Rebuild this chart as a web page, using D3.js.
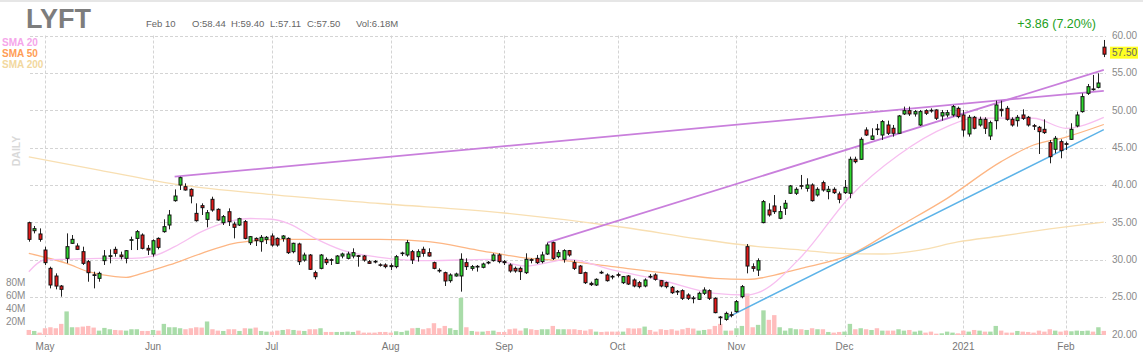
<!doctype html>
<html>
<head>
<meta charset="utf-8">
<script src="https://d3js.org/d3.v7.min.js"></script>
<style>
body { margin: 0; background: #fff; }
text { font-family: "Liberation Sans", Arial, sans-serif; }
</style>
</head>
<body>
<svg width="1143" height="359"></svg>
<script>
// ---- data (LYFT daily, Apr 28 2020 - Feb 10 2021) ----
var holidays = ["2020-05-25", "2020-07-03", "2020-09-07", "2020-11-26", "2020-12-25", "2021-01-01", "2021-01-18"];
var monthLabels = ["May", "Jun", "Jul", "Aug", "Sep", "Oct", "Nov", "Dec", "2021", "Feb"];
var priceTicks = [20, 25, 30, 35, 40, 45, 50, 55, 60];
var volTicks = [20, 40, 60, 80];

var opens = [
  34.94,33.87,33.43,31.28,28.83,27.80,26.46,30.17,32.18,31.82,
  31.06,29.72,27.97,27.49,29.86,30.43,31.37,30.61,30.17,32.58,
  32.84,33.29,31.51,30.75,32.84,33.74,34.63,37.89,39.98,39.76,
  39.40,36.19,37.22,35.39,38.07,36.73,34.94,36.41,34.76,34.63,
  35.08,32.26,32.84,32.40,32.71,33.16,32.84,32.84,32.84,31.06,
  32.09,29.94,30.61,28.25,28.83,30.03,29.99,29.50,30.48,30.17,
  30.48,30.52,30.48,29.72,29.77,29.30,29.28,29.19,29.06,30.80,
  30.62,31.06,30.39,31.38,30.93,29.59,28.56,28.25,27.18,27.81,
  27.81,29.59,28.83,29.10,28.97,29.64,29.86,30.62,29.73,29.28,
  28.83,28.83,28.25,30.00,30.17,29.73,30.75,32.27,30.39,30.04,
  31.20,29.59,29.14,28.25,26.82,26.60,28.30,27.94,27.76,27.98,
  26.91,27.81,27.27,26.91,26.47,27.76,27.94,27.18,26.91,26.29,
  25.75,25.84,25.26,24.86,24.68,25.49,25.84,24.82,22.31,22.00,
  22.62,23.03,25.04,31.73,29.05,28.60,34.95,36.64,37.18,35.53,
  36.87,38.88,38.88,39.90,39.54,39.99,38.65,40.30,39.10,39.41,
  38.79,38.96,38.88,43.43,43.43,47.35,46.10,47.49,46.68,48.02,
  47.58,46.91,49.50,49.94,49.50,48.02,49.94,49.99,50.03,49.23,
  49.36,49.36,50.25,49.36,46.82,49.05,48.02,48.78,46.55,48.60,
  50.12,50.25,48.78,48.60,49.36,49.05,47.93,47.71,47.44,45.66,
  44.77,45.79,45.52,46.10,47.89,49.81,52.26,52.84,53.06,58.44
];
var highs = [
  35.08,34.50,34.18,31.73,29.05,28.16,26.60,33.51,33.29,32.18,
  31.73,29.94,28.38,28.38,31.28,31.37,31.73,31.06,31.28,33.07,
  33.96,33.51,31.95,32.71,32.98,35.39,36.64,39.40,41.10,40.21,
  39.54,37.53,37.53,36.64,38.42,36.86,35.97,36.86,35.08,35.61,
  35.30,33.16,32.98,33.29,33.16,33.51,32.98,33.29,32.98,32.26,
  32.26,30.93,30.75,28.52,30.75,30.30,30.17,30.61,30.93,31.06,
  31.51,30.61,30.61,29.94,29.94,29.50,29.50,29.50,30.62,31.06,
  32.63,31.29,31.38,31.73,31.51,29.73,28.83,28.39,28.16,28.25,
  30.84,30.17,29.28,29.28,29.59,29.81,30.84,30.84,29.95,29.50,
  29.06,29.06,30.84,30.17,30.62,31.06,32.27,32.40,31.29,31.38,
  31.29,29.95,29.28,28.39,27.05,27.49,28.52,28.16,27.94,28.25,
  27.81,27.94,27.49,27.14,27.49,28.07,28.16,27.27,27.05,26.47,
  25.93,26.02,25.49,25.13,25.71,26.29,26.02,24.95,22.45,23.03,
  23.03,24.59,26.60,32.08,29.50,30.17,37.98,37.54,38.65,37.18,
  37.98,39.99,39.68,41.33,40.88,40.21,39.68,40.57,39.86,39.68,
  39.10,40.66,43.78,43.78,46.37,47.71,47.58,48.16,48.69,48.60,
  48.02,49.36,50.48,50.48,50.03,50.03,50.12,50.25,50.12,50.03,
  50.03,50.70,50.48,50.03,49.36,49.23,49.14,49.05,48.60,51.28,
  51.28,50.57,49.05,49.36,50.12,49.23,48.16,47.89,48.78,46.01,
  46.55,46.10,45.79,48.25,49.81,52.26,53.51,54.72,54.94,59.40
];
var lows = [
  32.40,33.51,32.40,29.28,26.15,26.02,25.04,29.50,32.09,31.28,
  29.28,27.04,26.15,27.04,29.28,29.50,30.39,30.03,29.50,31.28,
  31.28,31.37,30.61,30.39,31.37,33.60,34.05,37.75,39.32,39.23,
  37.53,35.08,35.97,34.32,36.41,35.21,34.63,34.50,32.84,34.50,
  32.71,31.95,31.82,31.06,32.09,31.73,31.73,32.40,30.75,30.84,
  29.28,29.72,28.61,27.36,28.70,29.28,29.28,29.41,30.17,30.03,
  30.17,29.05,29.72,29.41,29.50,29.06,28.83,28.61,28.83,30.48,
  30.39,29.41,29.73,30.39,30.39,28.70,28.25,26.47,26.91,27.72,
  25.71,28.61,28.52,28.39,28.83,29.37,29.73,29.50,29.28,28.25,
  28.25,27.27,28.07,29.50,29.41,29.50,30.62,29.95,30.17,29.59,
  30.39,28.61,28.07,26.73,26.47,26.47,28.07,27.05,27.36,27.63,
  26.73,26.60,26.29,26.15,26.29,27.49,27.18,26.29,26.15,25.40,
  25.26,24.59,24.59,24.15,24.59,25.26,24.59,22.81,21.24,21.82,
  22.27,22.89,24.82,28.16,28.38,27.80,34.86,35.75,36.11,35.40,
  35.98,38.79,38.65,39.41,39.10,37.76,38.43,39.10,38.07,38.79,
  37.54,38.79,38.21,42.89,43.34,46.55,46.02,46.68,46.02,46.68,
  46.46,46.82,49.36,49.23,49.14,47.89,49.36,49.67,48.69,48.60,
  49.05,49.14,48.92,46.46,46.46,47.44,47.80,46.82,46.01,47.44,
  49.14,48.60,47.80,47.80,48.69,47.80,47.35,44.14,46.82,42.89,
  44.23,43.56,44.68,46.01,47.71,49.67,52.04,52.62,52.93,57.11
];
var closes = [
  32.71,34.14,32.71,29.59,26.60,26.46,26.02,31.73,32.71,31.37,
  29.50,28.25,27.88,28.16,30.48,30.52,30.84,30.39,31.19,32.67,
  33.74,31.51,31.28,32.53,31.64,34.41,35.97,38.51,40.97,39.32,
  38.51,35.21,36.95,36.28,36.64,35.30,35.75,35.08,34.32,35.48,
  32.84,33.07,32.53,32.98,32.98,31.95,31.95,33.16,30.93,32.18,
  29.72,30.61,28.70,27.71,30.61,29.59,29.90,30.48,30.75,30.75,
  30.93,30.43,29.94,29.50,29.68,29.28,29.06,29.06,30.39,30.88,
  32.27,29.95,31.06,30.84,30.48,28.83,28.48,27.14,27.94,28.07,
  30.04,29.06,29.06,29.01,29.41,29.55,30.62,29.73,29.59,28.48,
  28.48,28.39,30.04,29.90,29.59,30.62,31.96,30.17,30.93,31.20,
  30.62,28.83,28.16,26.91,26.65,27.36,28.21,27.18,27.67,27.90,
  27.72,26.73,26.47,26.38,27.27,27.67,27.36,26.47,26.38,25.57,
  25.66,24.82,24.82,24.77,25.49,25.93,24.82,22.90,22.22,22.80,
  22.54,24.37,26.38,29.14,28.83,29.85,37.76,35.98,36.42,36.42,
  37.54,39.86,39.41,39.82,39.99,37.89,39.41,39.32,39.41,38.96,
  38.07,39.68,43.43,43.11,46.10,46.68,46.55,47.40,48.47,46.91,
  46.91,49.23,49.94,49.50,49.81,49.81,49.59,49.90,48.92,49.67,
  49.67,50.48,49.14,47.35,49.05,47.58,48.78,47.58,48.33,50.70,
  49.94,48.78,48.02,49.05,48.91,48.02,47.85,47.13,47.00,43.78,
  46.24,44.59,45.43,47.44,49.36,51.82,53.15,52.75,53.64,57.50
];
// volume in millions
var volumes = [
  7.6,6.1,3.6,10.2,11.7,10.2,16.8,35.6,11.7,11.7,
  12.7,13.7,11.2,6.6,10.7,8.7,7.6,7.1,6.6,8.7,
  8.7,6.1,6.1,7.6,6.6,16.8,11.7,11.7,10.2,8.7,
  10.2,11.7,11.2,20.4,8.7,6.6,6.1,8.7,8.7,6.1,
  10.2,9.7,11.2,6.1,5.1,5.1,6.6,7.6,8.7,7.6,
  6.6,6.1,8.7,8.7,10.2,4.6,4.6,4.6,4.6,5.1,
  4.6,6.6,3.6,3.6,3.6,4.6,4.6,3.6,5.6,4.6,
  6.6,10.2,10.7,8.7,10.2,17.8,10.2,13.7,10.2,7.6,
  56.0,11.7,6.1,5.1,5.1,6.1,6.6,4.6,4.6,8.7,
  9.7,6.6,10.2,8.7,7.6,8.7,8.7,13.7,8.7,8.7,
  8.7,8.7,7.6,6.6,8.7,5.1,4.6,5.1,5.1,5.1,
  5.1,10.2,9.7,10.2,12.7,7.6,5.1,8.7,7.6,8.7,
  6.6,8.7,10.7,9.7,6.6,7.6,8.7,13.7,16.8,6.6,
  6.6,10.2,13.7,62.6,11.7,15.3,37.2,22.9,30.0,11.7,
  6.6,10.2,8.7,8.7,7.6,10.2,8.7,8.7,4.6,3.6,
  4.6,5.1,16.8,8.7,10.2,8.7,7.6,10.2,6.6,6.6,
  6.6,8.7,6.6,7.6,5.1,6.6,3.6,5.1,2.0,2.5,
  5.1,3.6,2.5,6.6,5.1,7.6,6.6,5.1,5.1,13.7,
  6.6,3.6,3.6,6.1,5.1,4.6,3.6,6.6,5.1,8.7,
  6.6,5.1,6.6,5.6,6.6,6.1,6.6,5.1,11.7,6.18
];

// moving averages: [day index, value]
var sma20Pts = [[0,28.38],[3,29.95],[7,30.04],[13,30.17],[19,30.17],[23,30.48],[27,31.73],[32,33.74],[37,35.07],[41,35.50],
  [45,35.40],[48,34.86],[53,32.85],[58,31.28],[65,30.31],[74,29.85],[85,30.04],[92,29.14],[100,30.04],[108,28.61],
  [117,27.27],[127,25.49],[133,25.26],[135,25.57],[143,30.39],[152,38.42],[161,44.0],[170,47.79],[175,48.95],[186,48.92],
  [192,47.58],[199,49.05]];
var sma50Pts = [[0,30.84],[3,30.31],[7,29.50],[11,28.38],[16,27.71],[18,27.63],[21,28.17],[26,29.28],[32,30.84],[38,32.18],
  [42,32.53],[48,32.72],[56,32.72],[65,32.72],[74,32.40],[83,31.28],[91,30.31],[99,29.85],[108,29.05],[121,27.94],
  [127,27.50],[133,27.36],[143,28.84],[152,30.62],[161,34.40],[170,38.20],[180,43.11],[186,45.34],[192,46.41],
  [199,48.09]];
var sma200Pts = [[0,43.74],[13,41.99],[27,40.11],[46,38.64],[65,37.51],[88,36.24],[111,34.23],[124,32.76],[135,31.75],[143,31.28],
  [150,30.82],[158,30.75],[165,31.28],[172,32.36],[180,33.16],[189,34.10],[199,35.03]];

// trend lines: [start index, start price, end index, end price]
var resistLines = [[27, 41.10, 199, 52.60], [96, 32.27, 199, 55.40]];
var supportLines = [[129, 22.14, 199, 47.40]];

var header = ["Feb 10", "O:58.44", "H:59.40", "L:57.11", "C:57.50", "Vol:6.18M"];
var lastClose = 57.50, change = "+3.86 (7.20%)";

// ---- trading days ----
var fmt = d3.utcFormat("%Y-%m-%d");
var days = d3.utcDays(new Date(Date.UTC(2020, 3, 28)), new Date(Date.UTC(2021, 1, 11)))
  .filter(function (d) {
    var w = d.getUTCDay();
    return w > 0 && w < 6 && holidays.indexOf(fmt(d)) < 0;
  });

var candles = closes.map(function (c, i) {
  return { i: i, date: days[i], o: opens[i], h: highs[i], l: lows[i], c: c, v: volumes[i] };
});

// first trading day of every month
var monthStarts = [];
candles.forEach(function (d, i) {
  if (i > 0 && d.date.getUTCMonth() != candles[i - 1].date.getUTCMonth()) monthStarts.push(i);
});

// ---- scales ----
var svg = d3.select("svg");
var left = 30, right = 1106;
var x = d3.scaleLinear().domain([0, 199]).range([28.8, 1103.8]);
var y = d3.scaleLinear().domain([20, 60]).range([334.3, 35.5]);
var yv = d3.scaleLinear().domain([0, 80]).range([335, 282]);

var green = "#2ed82e", red = "#e41b1b";

// top border
svg.append("line").attr("x1", 0).attr("x2", 1143).attr("y1", 1).attr("y2", 1)
  .style("stroke", "#e6e6e6").style("stroke-width", 2);

// grid
var grid = svg.append("g").style("stroke", "#d4d4d4").style("stroke-dasharray", "3,2");
grid.selectAll(".h").data(priceTicks).enter().append("line")
  .attr("x1", left).attr("x2", right)
  .attr("y1", function (d) { return Math.round(y(d)) + 0.5; })
  .attr("y2", function (d) { return Math.round(y(d)) + 0.5; });
grid.selectAll(".v").data(monthStarts).enter().append("line")
  .attr("x1", function (d) { return Math.round(x(d)) + 0.5; })
  .attr("x2", function (d) { return Math.round(x(d)) + 0.5; })
  .attr("y1", y(60)).attr("y2", 337);

// volume bars
svg.append("g").selectAll("rect").data(candles).enter().append("rect")
  .attr("x", function (d) { return x(d.i) - 2.2; })
  .attr("width", 4.4)
  .attr("y", function (d) { return yv(d.v); })
  .attr("height", function (d) { return yv(0) - yv(d.v); })
  .style("fill", function (d) { return d.c >= d.o ? "#a9dca9" : "#ffbdbd"; });

// moving averages
var avgLine = d3.line()
  .x(function (d) { return x(d[0]); })
  .y(function (d) { return y(d[1]); })
  .curve(d3.curveMonotoneX);

[[sma200Pts, "#f8dfb2"], [sma50Pts, "#fdb684"], [sma20Pts, "#f7bff0"]].forEach(function (s) {
  svg.append("path").datum(s[0]).attr("d", avgLine)
    .style("fill", "none").style("stroke", s[1]).style("stroke-width", 1.3);
});

// trend lines
function trend(list, color, w) {
  svg.append("g").selectAll("line").data(list).enter().append("line")
    .attr("x1", function (d) { return x(d[0]); })
    .attr("y1", function (d) { return y(d[1]); })
    .attr("x2", function (d) { return x(d[2]); })
    .attr("y2", function (d) { return y(d[3]); })
    .style("stroke", color).style("stroke-width", w);
}
trend(resistLines, "#c97fdc", 1.8);
trend(supportLines, "#5db3e8", 1.5);

// candles
var cg = svg.append("g");
cg.selectAll(".wick").data(candles).enter().append("line")
  .attr("x1", function (d) { return Math.round(x(d.i)) + 0.5; })
  .attr("x2", function (d) { return Math.round(x(d.i)) + 0.5; })
  .attr("y1", function (d) { return y(d.h); })
  .attr("y2", function (d) { return y(d.l); })
  .style("stroke", "#222").style("stroke-width", 1);
cg.selectAll(".body").data(candles).enter().append("rect")
  .attr("x", function (d) { return Math.round(x(d.i)) - 1; })
  .attr("width", 3)
  .attr("y", function (d) { return y(Math.max(d.o, d.c)); })
  .attr("height", function (d) { return Math.max(0.5, Math.abs(y(d.o) - y(d.c))); })
  .style("fill", function (d) { return d.c >= d.o ? green : red; })
  .style("stroke", "#111").style("stroke-width", 1);

// price axis labels
var lab = svg.append("g").style("font-size", "10px").style("fill", "#8a8a8a");
lab.selectAll("text").data(priceTicks).enter().append("text")
  .attr("x", 1112).attr("y", function (d) { return y(d); }).attr("dy", "0.35em")
  .text(function (d) { return d.toFixed(2); });

// last price tag
svg.append("rect").attr("x", 1110).attr("y", y(lastClose) - 7.5).attr("width", 28).attr("height", 12)
  .style("fill", "#ffff22");
svg.append("text").attr("x", 1112).attr("y", y(lastClose) - 1.5).attr("dy", "0.35em")
  .style("font-size", "10px").style("fill", "#666").text(lastClose.toFixed(2));

// volume axis labels
svg.append("g").style("font-size", "10px").style("fill", "#8a8a8a")
  .selectAll("text").data(volTicks).enter().append("text")
  .attr("x", 6).attr("y", function (d) { return yv(d); }).attr("dy", "0.35em")
  .text(function (d) { return d + "M"; });

// month labels
svg.append("g").style("font-size", "10px").style("fill", "#777").attr("text-anchor", "middle")
  .selectAll("text").data(monthStarts).enter().append("text")
  .attr("x", function (d) { return x(d); }).attr("y", 350)
  .text(function (d, k) { return monthLabels[k]; });

// header
svg.append("text").attr("x", 26).attr("y", 27.5)
  .style("font-size", "27px").style("font-weight", "bold").style("fill", "#7d7d7d").text("LYFT");
var hx = [146, 192, 231, 270, 307, 356];
svg.append("g").style("font-size", "9.5px").style("fill", "#666")
  .selectAll("text").data(header).enter().append("text")
  .attr("x", function (d, k) { return hx[k]; }).attr("y", 27.3)
  .text(function (d) { return d; });
svg.append("text").attr("x", 1096).attr("y", 28.3).attr("text-anchor", "end")
  .style("font-size", "12.5px").style("fill", "#22a022").text(change);

// legend
var legend = [["SMA 20", "#f5a6ea"], ["SMA 50", "#ff9d55"], ["SMA 200", "#f2d89e"]];
svg.append("g").style("font-size", "10px").style("font-weight", "bold")
  .selectAll("text").data(legend).enter().append("text")
  .attr("x", 2).attr("y", function (d, k) { return 46 + k * 10.8; })
  .style("fill", function (d) { return d[1]; })
  .text(function (d) { return d[0]; });

svg.append("text").attr("transform", "translate(20,151) rotate(-90)").attr("text-anchor", "middle")
  .style("font-size", "10.5px").style("font-weight", "bold").style("fill", "#d9d9d9").text("DAILY");
</script>
</body>
</html>
